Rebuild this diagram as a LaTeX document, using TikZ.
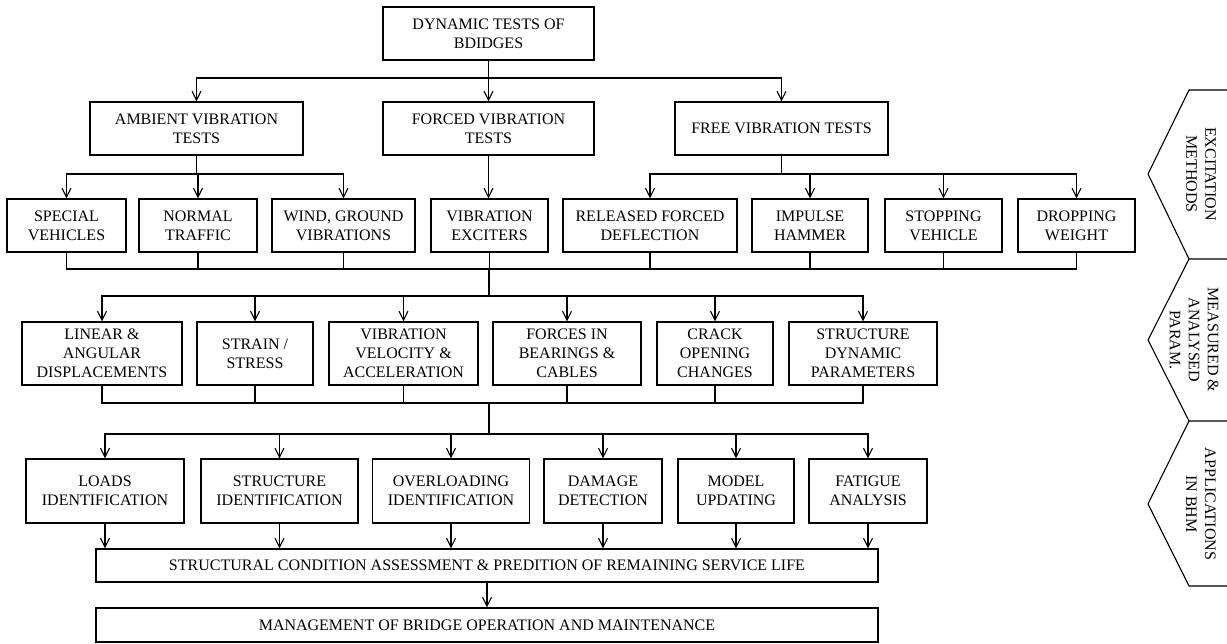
\documentclass[tikz,border=0pt]{standalone}
\usepackage{fontspec}
\setmainfont{Liberation Serif}
\usetikzlibrary{arrows.meta}

\tikzset{
	box/.style = {draw, line width = 1.1pt, align = center, inner sep = 0pt,
		font = \fontsize{16pt}{19pt}\selectfont, text = black},
	side/.style = {align = center, inner sep = 0pt, rotate = -90,
		font = \fontsize{16pt}{19pt}\selectfont, text = black},
	wire/.style = {line width = 1.1pt},
}

\begin{document}
\begin{tikzpicture}[> = {Straight Barb[length = 9pt, width = 9pt]}, x = 1pt, y = -1pt]

	% Canvas
	
	\fill [white] (0, 0) rectangle (1227, 644);
	\useasboundingbox (0, 0) rectangle (1227, 644);
	
	% Definitions
	
	\def\hA{53}		% Height of test boxes
	\def\hB{64}		% Height of parameter boxes
	
	% Test types
	
	\node [box, minimum width = 211, minimum height = \hA] (top) at (488.5, 33.5) {DYNAMIC TESTS OF\\BDIDGES};
	
	\node [box, minimum width = 213, minimum height = \hA] (amb) at (196.5, 128.5) {AMBIENT VIBRATION\\TESTS};
	\node [box, minimum width = 211, minimum height = \hA] (forced) at (488.5, 128.5) {FORCED VIBRATION\\TESTS};
	\node [box, minimum width = 213, minimum height = \hA] (free) at (781.5, 128.5) {FREE VIBRATION TESTS};
	
	% Excitation methods
	
	\foreach \n/\x/\w/\t in {spec/66.5/119/{SPECIAL\\VEHICLES}, norm/198/118/{NORMAL\\TRAFFIC},
		wind/343.5/143/{WIND, GROUND\\VIBRATIONS}, vib/489.5/117/{VIBRATION\\EXCITERS},
		rel/650/174/{RELEASED FORCED\\DEFLECTION}, imp/810/116/{IMPULSE\\HAMMER},
		stop/943.5/117/{STOPPING\\VEHICLE}, drop/1076.5/117/{DROPPING\\WEIGHT}}
		\node [box, minimum width = \w, minimum height = \hA] (\n) at (\x, 225.5) {\t};
	
	% Measured parameters
	
	\foreach \n/\x/\w/\t in {lin/102/160/{LINEAR \&\\ANGULAR\\DISPLACEMENTS}, strain/255/116/{STRAIN /\\STRESS},
		vel/403.5/149/{VIBRATION\\VELOCITY \&\\ACCELERATION}, forc/567/148/{FORCES IN\\BEARINGS \&\\CABLES},
		crack/715/116/{CRACK\\OPENING\\CHANGES}, sdyn/863/148/{STRUCTURE\\DYNAMIC\\PARAMETERS}}
		\node [box, minimum width = \w, minimum height = 63] (\n) at (\x, 353.5) {\t};
	
	% Applications
	
	\foreach \n/\x/\w/\t in {loads/105/158/{LOADS\\IDENTIFICATION}, sid/279.5/157/{STRUCTURE\\IDENTIFICATION},
		over/451/157/{OVERLOADING\\IDENTIFICATION}, dam/603/118/{DAMAGE\\DETECTION},
		model/736/116/{MODEL\\UPDATING}, fat/868/118/{FATIGUE\\ANALYSIS}}
		\node [box, minimum width = \w, minimum height = \hB] (\n) at (\x, 491) {\t};
	
	\node [box, minimum width = 782, minimum height = 33] (assess) at (487, 565.5) {STRUCTURAL CONDITION ASSESSMENT \& PREDITION OF REMAINING SERVICE LIFE};
	\node [box, minimum width = 782, minimum height = 34] (manage) at (487, 625) {MANAGEMENT OF BRIDGE OPERATION AND MAINTENANCE};
	
	% Bus levels
	
	\coordinate (b0) at (0, 78);
	\coordinate (b1) at (0, 174);
	\coordinate (m2) at (489, 269);
	\coordinate (b2) at (489, 296);
	\coordinate (m3) at (489, 403);
	\coordinate (b3) at (489, 434);
	
	% Connectors
	
	\foreach \n in {amb, forced, free}
		\draw [wire, ->] (top.south) -- (top.south |- b0) -| (\n.north);
	
	\foreach \n in {spec, norm, wind}
		\draw [wire, ->] (amb.south) -- (amb.south |- b1) -| (\n.north);
	
	\draw [wire, ->] (forced.south) -- (forced.south |- vib.north);
	
	\foreach \n in {rel, imp, stop, drop}
		\draw [wire, ->] (free.south) -- (free.south |- b1) -| (\n.north);
	
	\foreach \n in {spec, norm, wind, vib, rel, imp, stop, drop}
		\draw [wire] (\n.south) |- (m2);
	\draw [wire] (m2) -- (b2);
	
	\foreach \n in {lin, strain, vel, forc, crack, sdyn}
	{
		\draw [wire, ->] (b2) -| (\n.north);
		\draw [wire] (\n.south) |- (m3);
	}
	\draw [wire] (m3) -- (b3);
	
	\foreach \n in {loads, sid, over, dam, model, fat}
	{
		\draw [wire, ->] (b3) -| (\n.north);
		\draw [wire, ->] (\n.south) -- (\n.south |- assess.north);
	}
	
	\draw [wire, ->] (assess.south) -- (manage.north);
	
	% Stage markers
	
	\draw [wire] (1230, 90) -- (1189, 90) -- (1148, 174) -- (1189, 259) -- (1230, 259);
	\draw [wire] (1189, 259) -- (1148, 340) -- (1189, 421) -- (1230, 421);
	\draw [wire] (1189, 421) -- (1148, 504) -- (1189, 586) -- (1230, 586);
	
	\node [side] (exc) at (1201, 174) {EXCITATION\\METHODS};
	\node [side] (meas) at (1194, 340) {MEASURED \&\\ANALYSED\\PARAM.};
	\node [side] (appl) at (1201, 504) {APPLICATIONS\\IN BHM};
	
\end{tikzpicture}
\end{document}
